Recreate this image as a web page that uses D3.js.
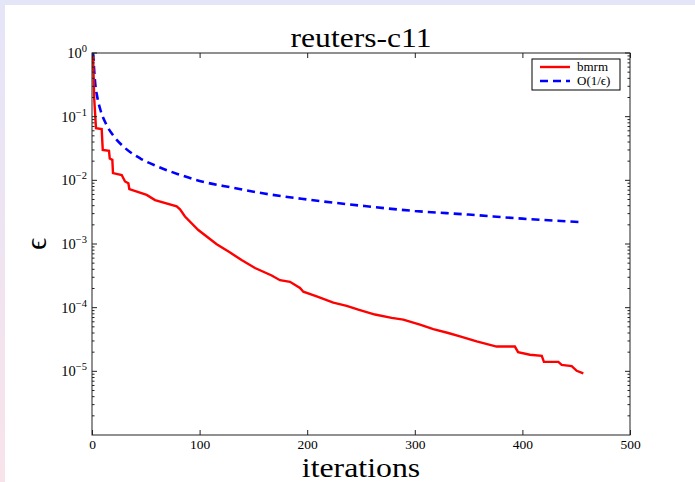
<!DOCTYPE html>
<html>
<head>
<meta charset="utf-8">
<script src="https://cdn.jsdelivr.net/npm/d3@7"></script>
<style>
  html, body { margin: 0; padding: 0; background: #ffffff; }
  svg { display: block; }
</style>
</head>
<body>
<script>
// ---- data ----
const bmrmIter = [1, 2, 3.7, 9, 10, 15.8, 16.5, 18.9, 19.5, 27.6, 30.7, 33.8, 34.7, 50.8, 58.6, 78.7, 81.8, 86.4, 98.8, 115.9, 128, 139, 151.5, 167, 174.7, 184, 193.3, 196.4, 208.8, 224.3, 236.7, 247.5, 263, 278.5, 289.3, 304.8, 317.2, 331.1, 342, 357.5, 376, 393, 396, 407, 418, 420, 433.4, 436.5, 445.8, 450.5, 456.6];
const bmrmEps = [0.9, 0.2, 0.066, 0.064, 0.030, 0.029, 0.022, 0.021, 0.013, 0.0121, 0.0096, 0.0090, 0.0073, 0.0059, 0.0049, 0.0039, 0.0035, 0.0027, 0.00166, 0.00099, 0.00074, 0.00056, 0.00042, 0.00032, 0.00027, 0.000255, 0.000204, 0.000178, 0.000151, 0.000120, 0.000107, 0.000093, 0.000078, 0.000069, 0.000065, 0.000054, 0.000046, 0.000040, 0.0000355, 0.0000295, 0.0000245, 0.0000245, 0.000020, 0.0000182, 0.0000175, 0.0000141, 0.0000141, 0.0000126, 0.0000121, 0.0000102, 0.0000093];
const boundIter = [1, 3, 5, 8, 13, 20, 30, 45, 60, 80, 100, 130, 160, 200, 250, 300, 350, 400, 456];
const boundEps = [1, 0.33, 0.2, 0.125, 0.077, 0.05, 0.033, 0.022, 0.0167, 0.0125, 0.0098, 0.0077, 0.0062, 0.005, 0.004, 0.0033, 0.0029, 0.0025, 0.0022];
const xTicks = [0, 100, 200, 300, 400, 500];
const yExponents = [0, -1, -2, -3, -4, -5];
const seriesNames = ["bmrm", "O(1/\u03F5)"];
const titleText = "reuters-c11";
const xLabelText = "iterations";
const yLabelText = "\u03F5";

// ---- layout ----
const W = 695, H = 482;
const plot = { left: 92, right: 630, top: 53, bottom: 435 };
const serif = "'Liberation Serif', 'DejaVu Serif', serif";

const svg = d3.select("body").append("svg").attr("width", W).attr("height", H);

// beamer-like frame strips
const defs = svg.append("defs");
const grad = defs.append("linearGradient").attr("id", "leftGrad")
  .attr("x1", 0).attr("y1", 0).attr("x2", 0).attr("y2", 1);
grad.append("stop").attr("offset", "0%").attr("stop-color", "#e5e5f8");
grad.append("stop").attr("offset", "100%").attr("stop-color", "#f8e3ea");
svg.append("rect").attr("x", 0).attr("y", 0).attr("width", W).attr("height", 5).attr("fill", "#e5e5f8");
svg.append("rect").attr("x", 0).attr("y", 0).attr("width", 5).attr("height", H).attr("fill", "url(#leftGrad)");

const x = d3.scaleLinear().domain([0, 500]).range([plot.left, plot.right]);
const y = d3.scaleLog().domain([1e-6, 1]).range([plot.bottom, plot.top]);

const g = svg.append("g");

defs.append("clipPath").attr("id", "plotClip").append("rect")
  .attr("x", plot.left).attr("y", plot.top)
  .attr("width", plot.right - plot.left).attr("height", plot.bottom - plot.top);

// curves
const bmrm = bmrmIter.map((t, i) => [t, bmrmEps[i]]);
const bound = boundIter.map((t, i) => [t, boundEps[i]]);

const curves = g.append("g").attr("clip-path", "url(#plotClip)");
curves.append("path").datum(bound)
  .attr("d", d3.line().x(d => x(d[0])).y(d => y(d[1])).curve(d3.curveMonotoneX))
  .attr("fill", "none").attr("stroke", "#0000ff").attr("stroke-width", 2.6)
  .attr("stroke-dasharray", "8,5");
curves.append("path").datum(bmrm)
  .attr("d", d3.line().x(d => x(d[0])).y(d => y(d[1])))
  .attr("fill", "none").attr("stroke", "#ff0000").attr("stroke-width", 2.4)
  .attr("stroke-linejoin", "miter");

// frame
const axisColor = "#222";
g.append("rect").attr("x", plot.left).attr("y", plot.top)
  .attr("width", plot.right - plot.left).attr("height", plot.bottom - plot.top)
  .attr("fill", "none").attr("stroke", axisColor).attr("stroke-width", 1);

// x ticks (inward, top and bottom)
const xAxisBottom = d3.axisBottom(x).tickValues(xTicks).tickSizeInner(-5).tickSizeOuter(0).tickPadding(4).tickFormat(d3.format("d"));
const gxb = g.append("g").attr("transform", `translate(0,${plot.bottom})`).call(xAxisBottom);
gxb.select(".domain").remove();
gxb.selectAll("line").attr("stroke", axisColor);
gxb.selectAll("text").attr("font-family", serif).attr("font-size", 13.5).attr("fill", "#000");

const xAxisTop = d3.axisTop(x).tickValues(xTicks).tickSizeInner(-5).tickSizeOuter(0).tickFormat("");
const gxt = g.append("g").attr("transform", `translate(0,${plot.top})`).call(xAxisTop);
gxt.select(".domain").remove();
gxt.selectAll("line").attr("stroke", axisColor);

// y ticks
const majorY = yExponents.map(e => Math.pow(10, e));
const minorY = [];
for (let e = -6; e < 0; e++) for (let m = 2; m <= 9; m++) minorY.push(m * Math.pow(10, e));

function yTicks(side) {
  const x0 = side === "left" ? plot.left : plot.right;
  const dir = side === "left" ? 1 : -1;
  const a = g.append("g");
  a.selectAll("line.major").data(majorY).join("line")
    .attr("x1", x0).attr("x2", x0 + dir * 5)
    .attr("y1", d => y(d)).attr("y2", d => y(d))
    .attr("stroke", axisColor);
  a.selectAll("line.minor").data(minorY).join("line")
    .attr("x1", x0).attr("x2", x0 + dir * 2.5)
    .attr("y1", d => y(d)).attr("y2", d => y(d))
    .attr("stroke", axisColor);
}
yTicks("left");
yTicks("right");

// y tick labels 10^e
const ylab = g.append("g");
yExponents.forEach(e => {
  const t = ylab.append("text")
    .attr("x", plot.left - 5).attr("y", y(Math.pow(10, e)) + 5)
    .attr("text-anchor", "end")
    .attr("font-family", serif).attr("font-size", 14.5).attr("fill", "#000");
  t.append("tspan").text("10");
  t.append("tspan").attr("dy", -6).attr("font-size", 10.5)
    .text(e === 0 ? "0" : "\u2212" + Math.abs(e));
});

// title and axis labels (horizontally widened to mimic Computer Modern proportions)
const cx = (plot.left + plot.right) / 2;
svg.append("text").attr("transform", `translate(${cx},47) scale(1.17,1)`)
  .attr("text-anchor", "middle").attr("font-family", serif).attr("font-size", 27)
  .attr("fill", "#000").text(titleText);
svg.append("text").attr("transform", `translate(${cx},477) scale(1.2,1)`)
  .attr("text-anchor", "middle").attr("font-family", serif).attr("font-size", 26.5)
  .attr("fill", "#000").text(xLabelText);
svg.append("text").attr("transform", `translate(46,${(plot.top + plot.bottom) / 2}) rotate(-90)`)
  .attr("text-anchor", "middle").attr("font-family", serif).attr("font-size", 30)
  .attr("fill", "#000").text(yLabelText);

// legend
const lg = svg.append("g");
const lx = 532, ly = 59, lw = 88, lh = 31;
lg.append("rect").attr("x", lx).attr("y", ly).attr("width", lw).attr("height", lh)
  .attr("fill", "#fff").attr("stroke", "#000").attr("stroke-width", 1);
const legendStyles = [
  { color: "#ff0000", dash: null },
  { color: "#0000ff", dash: "8,5" }
];
seriesNames.forEach((name, i) => {
  const yy = ly + 8 + i * 14;
  const ln = lg.append("line").attr("x1", lx + 8).attr("x2", lx + 38)
    .attr("y1", yy).attr("y2", yy)
    .attr("stroke", legendStyles[i].color).attr("stroke-width", 2.4);
  if (legendStyles[i].dash) ln.attr("stroke-dasharray", legendStyles[i].dash);
  lg.append("text").attr("x", lx + 45).attr("y", yy + 4)
    .attr("font-family", serif).attr("font-size", 13).attr("fill", "#000").text(name);
});
</script>
</body>
</html>
